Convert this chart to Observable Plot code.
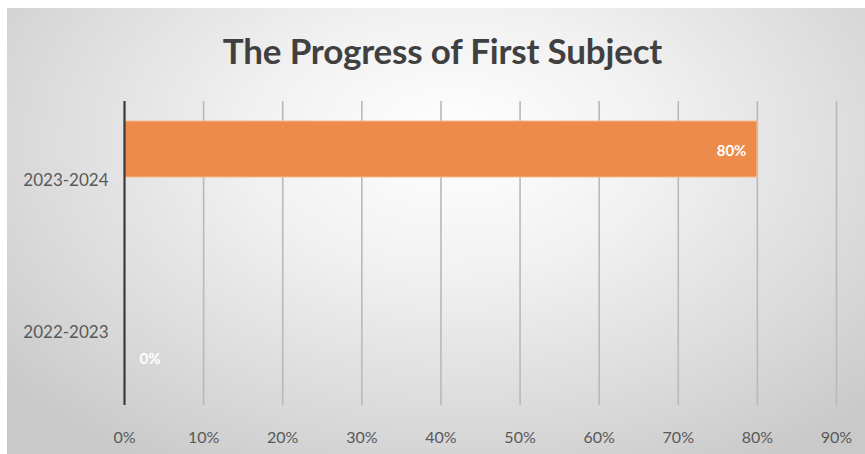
<!DOCTYPE html>
<html>
<head>
<meta charset="utf-8">
<script src="https://cdn.jsdelivr.net/npm/d3@7"></script>
<script src="https://cdn.jsdelivr.net/npm/@observablehq/plot@0.6"></script>
<style>
  html, body { margin: 0; padding: 0; background: #fff; }
  #wrap { position: relative; width: 865px; height: 454px; background: #fff; overflow: hidden; }
  #panel {
    position: absolute; left: 7px; top: 8px; right: 0; bottom: 0;
    background: radial-gradient(ellipse 68% 85% at 52% 30%, #ffffff 0%, #f1f1f1 35%, #d9d9d9 75%, #c9c9c9 100%);
  }
  #title {
    position: absolute; left: 0; width: 885px; top: 29px; text-align: center;
    font-family: Lato, "Open Sans", sans-serif; font-weight: bold; font-size: 35px;
    color: #404040; letter-spacing: -0.2px;
  }
  #chart { position: absolute; left: 0; top: 0; }
</style>
</head>
<body>
<div id="wrap">
  <div id="panel"></div>
  <div id="title">The Progress of First Subject</div>
  <div id="chart"></div>
</div>
<script>
// Data
const seasons = ["2023-2024", "2022-2023"];          // top to bottom
const barSeason = ["2022-2023", "2023-2024"];
const barSlot = ["lower", "upper"];                   // position of the bar within the season band
const progress = [0, 0.80];
const xTicks = [0, 0.1, 0.2, 0.3, 0.4, 0.5, 0.6, 0.7, 0.8, 0.9];

const data = barSeason.map((s, i) => ({season: s, slot: barSlot[i], value: progress[i]}));
const fmt = d3.format(".0%");
const labelStyle = {fill: "#ffffff", fontWeight: "bold", fontSize: 15, dy: 2};

const chart = Plot.plot({
  width: 865,
  height: 454,
  marginLeft: 124,
  marginRight: 29,
  marginTop: 100,
  marginBottom: 49,
  style: {background: "transparent", fontFamily: "Lato, 'Open Sans', sans-serif", overflow: "visible"},
  x: {domain: [0, 0.9]},
  y: {domain: ["upper", "lower"], paddingInner: 0, paddingOuter: 0.34, axis: null},
  fy: {domain: seasons, padding: 0, label: null},
  marks: [
    Plot.ruleX(xTicks.filter(d => d > 0), {stroke: "#b9b9b9", strokeWidth: 1.6}),
    Plot.barX(data, {x: "value", y: "slot", fy: "season", fill: "#ed8b4a", stroke: "#f4b98e", strokeWidth: 1}),
    Plot.text(data.filter(d => d.value > 0), {
      x: "value", y: "slot", fy: "season", text: d => fmt(d.value),
      textAnchor: "end", dx: -11, ...labelStyle
    }),
    Plot.text(data.filter(d => d.value === 0), {
      x: "value", y: "slot", fy: "season", text: d => fmt(d.value),
      textAnchor: "start", dx: 15, ...labelStyle
    }),
    Plot.ruleX([0], {stroke: "#3a3a3a", strokeWidth: 2.2}),
    Plot.axisFy({anchor: "left", tickSize: 0, tickPadding: 16, fontSize: 17, color: "#595959", label: null, dy: 3}),
    Plot.axisX(xTicks, {anchor: "bottom", tickSize: 0, tickPadding: 26, fontSize: 16, color: "#595959", tickFormat: fmt, label: null})
  ]
});
document.getElementById("chart").appendChild(chart);
</script>
</body>
</html>
